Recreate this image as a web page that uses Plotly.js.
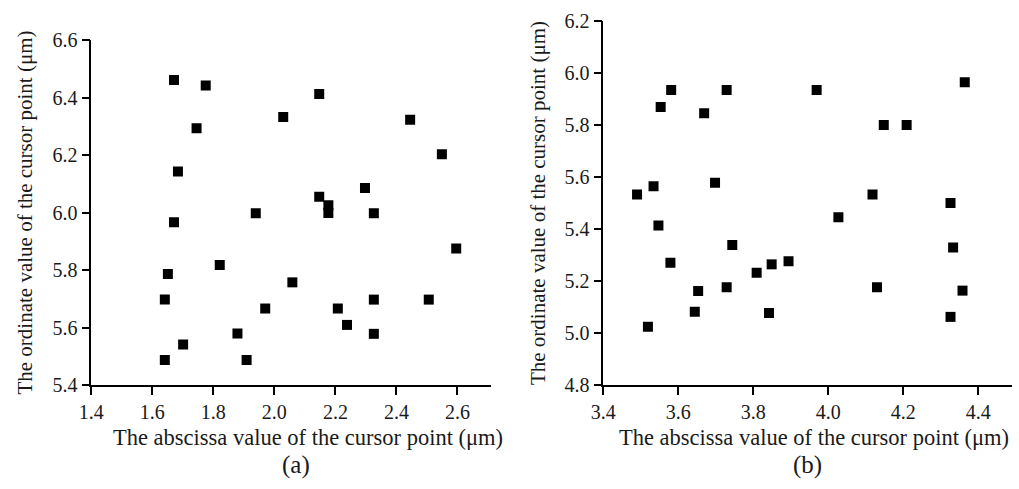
<!DOCTYPE html>
<html>
<head>
<meta charset="utf-8">
<script src="https://cdn.plot.ly/plotly-3.0.1.min.js"></script>
<style>html,body{margin:0;padding:0;background:#fff;}#chart{width:1019px;height:489px;}</style>
</head>
<body>
<div id="chart"></div>
<script>
// Panel (a)
const xA = [1.671, 1.775, 2.147, 2.029, 2.445, 1.745, 2.549, 1.684, 2.297, 2.147, 2.177, 2.177, 1.939, 2.326, 1.671, 2.596, 1.821, 1.651, 2.059, 1.641, 2.326, 2.506, 1.970, 2.208, 2.238, 1.879, 2.326, 1.701, 1.641, 1.909];
const yA = [6.461, 6.442, 6.412, 6.332, 6.323, 6.293, 6.203, 6.143, 6.085, 6.055, 6.025, 5.998, 5.997, 5.997, 5.966, 5.875, 5.817, 5.786, 5.757, 5.697, 5.697, 5.697, 5.666, 5.666, 5.609, 5.579, 5.578, 5.541, 5.487, 5.487];
// Panel (b)
const xB = [3.490, 3.534, 3.547, 3.553, 3.581, 3.669, 3.698, 3.729, 3.744, 3.969, 4.027, 4.118, 4.148, 4.209, 4.326, 4.364, 4.333, 3.579, 3.653, 3.644, 3.729, 3.809, 3.849, 3.894, 3.842, 3.519, 4.130, 4.358, 4.326];
const yB = [5.533, 5.564, 5.413, 5.869, 5.935, 5.845, 5.578, 5.935, 5.338, 5.935, 5.445, 5.533, 5.800, 5.800, 5.500, 5.964, 5.329, 5.270, 5.162, 5.082, 5.176, 5.232, 5.264, 5.276, 5.077, 5.024, 5.176, 5.163, 5.062];

const xTitle = 'The abscissa value of the cursor point (μm)';
const yTitle = 'The ordinate value of the cursor point (μm)';
const panelLabels = ['(a)', '(b)'];

const W = 1019, H = 489;
const fontFam = '"Liberation Serif", "Times New Roman", serif';
const txt = '#1a1a1a';

const marker = {symbol: 'square', size: 10, color: '#000'};
const traces = [
  {x: xA, y: yA, type: 'scatter', mode: 'markers', marker: marker, xaxis: 'x', yaxis: 'y', hoverinfo: 'x+y'},
  {x: xB, y: yB, type: 'scatter', mode: 'markers', marker: marker, xaxis: 'x2', yaxis: 'y2', hoverinfo: 'x+y'}
];

function ax(extra) {
  return Object.assign({
    showline: true, linecolor: '#000', linewidth: 1.5,
    ticks: 'outside', ticklen: 8, tickwidth: 1.5, tickcolor: '#000',
    showgrid: false, zeroline: false, tickformat: '.1f', dtick: 0.2,
    tickfont: {family: fontFam, size: 20, color: txt},
    fixedrange: true
  }, extra);
}
const xtf = {family: fontFam, size: 22.5, color: txt};
const ytf = {family: fontFam, size: 21, color: txt};

function label(text, x, y, font) {
  return {text: text, xref: 'paper', yref: 'paper', x: x / W, y: (H - y) / H,
    xanchor: 'center', yanchor: 'middle', showarrow: false, font: font};
}

const layout = {
  width: W, height: H,
  margin: {l: 0, r: 0, t: 0, b: 0},
  paper_bgcolor: '#fff', plot_bgcolor: '#fff',
  showlegend: false,
  font: {family: fontFam, color: txt},
  xaxis: ax({domain: [91.3 / W, 491 / W], range: [1.4, 2.71], tick0: 1.4, anchor: 'y'}),
  yaxis: ax({domain: [104 / H, 449 / H], range: [5.4, 6.6], tick0: 5.4, anchor: 'x',
    title: {text: yTitle, font: ytf, standoff: 14}}),
  xaxis2: ax({domain: [603.3 / W, 1012 / W], range: [3.4, 4.49], tick0: 3.4, anchor: 'y2'}),
  yaxis2: ax({domain: [104 / H, 468 / H], range: [4.8, 6.2], tick0: 4.8, anchor: 'x2',
    title: {text: yTitle, font: ytf, standoff: 13}}),
  annotations: [
    label(xTitle, 308, 437, xtf),
    label(xTitle, 814, 437, xtf),
    label(panelLabels[0], 296, 465, {family: fontFam, size: 25, color: txt}),
    label(panelLabels[1], 807, 465, {family: fontFam, size: 25, color: txt})
  ]
};

Plotly.newPlot('chart', traces, layout, {displayModeBar: false, staticPlot: false});
</script>
</body>
</html>
